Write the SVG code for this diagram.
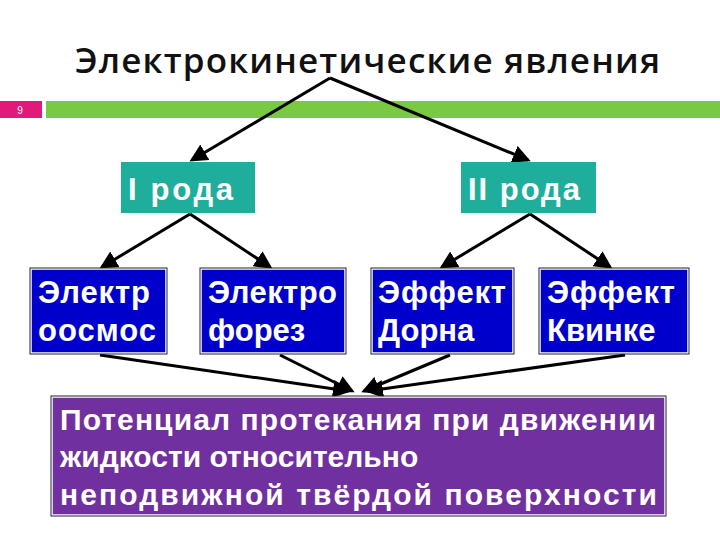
<svg xmlns="http://www.w3.org/2000/svg" width="720" height="540" viewBox="0 0 720 540">
<style>
.t{font-family:"Liberation Sans",Arial,sans-serif;font-weight:bold;fill:#fff}
.b{fill:#0000cc;stroke:#fff;stroke-width:1.5}
.ob{fill:none;stroke:#223;stroke-width:1}
.c line{stroke:#000;stroke-width:3;marker-end:url(#a)}
</style>
<defs><marker id="a" markerWidth="6" markerHeight="6" refX="5" refY="3" orient="auto"><path d="M0,0L6,3L0,6z" fill="#000"/></marker></defs>
<rect width="720" height="540" fill="#fff"/>
<text x="75" y="73" textLength="585" font-family="Open Sans,sans-serif" font-weight="600" font-size="35" fill="#111">Электрокинетические явления</text>
<rect x="0" y="101" width="42" height="17" fill="#e0197a"/>
<text x="20" y="114" font-family="Liberation Sans,sans-serif" font-size="10" fill="#fff" text-anchor="middle">9</text>
<rect x="46" y="101" width="674" height="17" fill="#7ac943"/>
<g class="c">
<line x1="330" y1="78" x2="192" y2="160"/>
<line x1="330" y1="78" x2="528" y2="160"/>
<line x1="190" y1="214" x2="102" y2="267"/>
<line x1="190" y1="214" x2="270" y2="267"/>
<line x1="530" y1="214" x2="442" y2="267"/>
<line x1="530" y1="214" x2="610" y2="267"/>
<line x1="100" y1="355" x2="348" y2="391"/>
<line x1="280" y1="355" x2="352" y2="391"/>
<line x1="450" y1="355" x2="364" y2="391"/>
<line x1="625" y1="355" x2="368" y2="391"/>
</g>
<g id="n1"><rect x="121" y="162" width="134" height="51" fill="#1fae9b"/><text class="t" x="128" y="200" font-size="31" textLength="105">I рода</text></g>
<g id="n2"><rect x="461" y="162" width="135" height="51" fill="#1fae9b"/><text class="t" x="468" y="200" font-size="31" textLength="112">II рода</text></g>
<g id="n3"><rect x="31" y="269" width="135" height="84" class="b"/><rect x="30" y="268" width="137" height="86" class="ob"/><text class="t" x="38" y="303" font-size="31" textLength="112">Электр</text><text class="t" x="38" y="341" font-size="31" textLength="118">оосмос</text></g>
<g id="n4"><rect x="201" y="269" width="144" height="84" class="b"/><rect x="200" y="268" width="146" height="86" class="ob"/><text class="t" x="208" y="303" font-size="31" textLength="129">Электро</text><text class="t" x="208" y="341" font-size="31">форез</text></g>
<g id="n5"><rect x="372" y="269" width="141" height="84" class="b"/><rect x="371" y="268" width="143" height="86" class="ob"/><text class="t" x="378" y="303" font-size="31" textLength="128">Эффект</text><text class="t" x="378" y="341" font-size="31">Дорна</text></g>
<g id="n6"><rect x="540" y="269" width="148" height="84" class="b"/><rect x="539" y="268" width="150" height="86" class="ob"/><text class="t" x="547" y="303" font-size="31" textLength="128">Эффект</text><text class="t" x="547" y="341" font-size="31">Квинке</text></g>
<g id="n7"><rect x="52" y="397" width="613" height="118" fill="#7030a0" stroke="#fff" stroke-width="1.5"/><rect x="51" y="396" width="615" height="120" class="ob"/>
<text class="t" x="60" y="430" font-size="30" textLength="596">Потенциал протекания при движении</text>
<text class="t" x="60" y="467" font-size="30">жидкости относительно</text>
<text class="t" x="60" y="505" font-size="30" textLength="597">неподвижной твёрдой поверхности</text></g>
</svg>
